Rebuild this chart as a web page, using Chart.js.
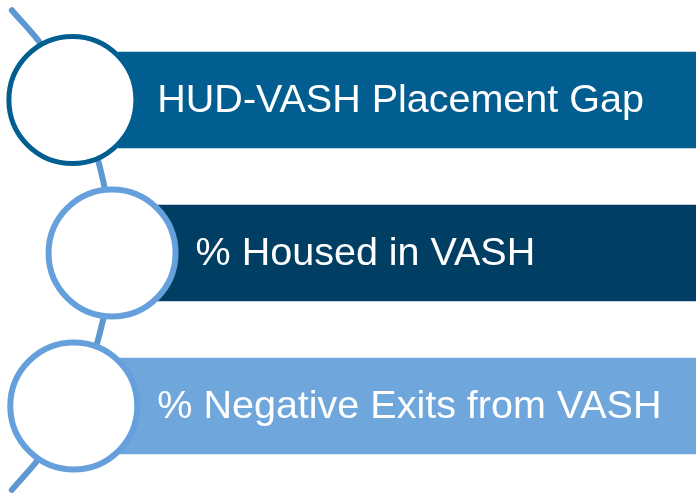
<!DOCTYPE html>
<html>
<head>
<meta charset="utf-8">
<script src="https://cdn.jsdelivr.net/npm/chart.js@4"></script>
<style>
  html, body { margin: 0; padding: 0; background: #fff; }
  #wrap { width: 696px; height: 496px; position: relative; }
</style>
</head>
<body>
<div id="wrap"><canvas id="diagram"></canvas></div>
<script>
// Items of the list, top to bottom
const categories = ['HUD-VASH Placement Gap', '% Housed in VASH', '% Negative Exits from VASH'];
// where each band begins / ends (percent of width)
const bandStart = [17, 22.5, 17];
const bandEnd = [100, 100, 100];
// circle markers on the left (percent of width)
const circleX = [10.4, 16.1, 10.6];
// the arc running behind the circles (x percent, y percent of plot height)
const arcX = [1.7, 6.0, 9.3, 12.7, 14.8, 15.5, 15.8, 15.5, 14.8, 12.7, 9.3, 6.0, 1.7];
const arcY = [-2.9, 4.7, 12.3, 23.2, 34.1, 41.7, 49.4, 57.0, 64.6, 75.5, 86.4, 94.0, 101.6];

const bandColors = ['#025e91', '#003f63', '#6fa6dc'];
const circleBorders = ['#005e91', '#65a0dc', '#65a0dc'];

const bandText = {
    id: 'bandText',
    afterDatasetsDraw(chart) {
        const ctx = chart.ctx;
        const meta = chart.getDatasetMeta(0);
        ctx.save();
        ctx.fillStyle = '#ffffff';
        ctx.font = '39.5px "Liberation Sans", Arial, sans-serif';
        ctx.textBaseline = 'alphabetic';
        meta.data.forEach((bar, i) => {
            ctx.fillText(categories[i], bar.base + 39, bar.y + 11.5);
        });
        ctx.restore();
    }
};

new Chart(document.getElementById('diagram'), {
    type: 'bar',
    data: {
        labels: categories,
        datasets: [
            {
                type: 'bar',
                indexAxis: 'y',
                data: categories.map((c, i) => [bandStart[i], bandEnd[i]]),
                backgroundColor: bandColors,
                borderWidth: 0,
                borderSkipped: false,
                barThickness: 96,
                order: 2
            },
            {
                type: 'bubble',
                data: categories.map((c, i) => ({ x: circleX[i], y: c, r: 63.5 })),
                backgroundColor: '#ffffff',
                borderColor: circleBorders,
                borderWidth: [5, 6, 6],
                hoverRadius: 0,
                clip: false,
                order: 1
            },
            {
                type: 'line',
                yAxisID: 'y2',
                data: arcX.map((x, i) => ({ x: x, y: arcY[i] })),
                borderColor: '#5e98d1',
                borderWidth: 6,
                borderCapStyle: 'round',
                pointRadius: 0,
                tension: 0.4,
                fill: false,
                clip: false,
                order: 3
            }
        ]
    },
    options: {
        responsive: true,
        maintainAspectRatio: false,
        animation: false,
        events: [],
        layout: { autoPadding: false, padding: { top: 23.5, bottom: 13.5, left: 0, right: 0 } },
        plugins: { legend: { display: false }, tooltip: { enabled: false } },
        scales: {
            x: { type: 'linear', min: 0, max: 100, offset: false, display: false },
            y: { type: 'category', offset: true, display: false },
            y2: { type: 'linear', min: 0, max: 100, reverse: true, offset: false, display: false }
        }
    },
    plugins: [bandText]
});
</script>
</body>
</html>
